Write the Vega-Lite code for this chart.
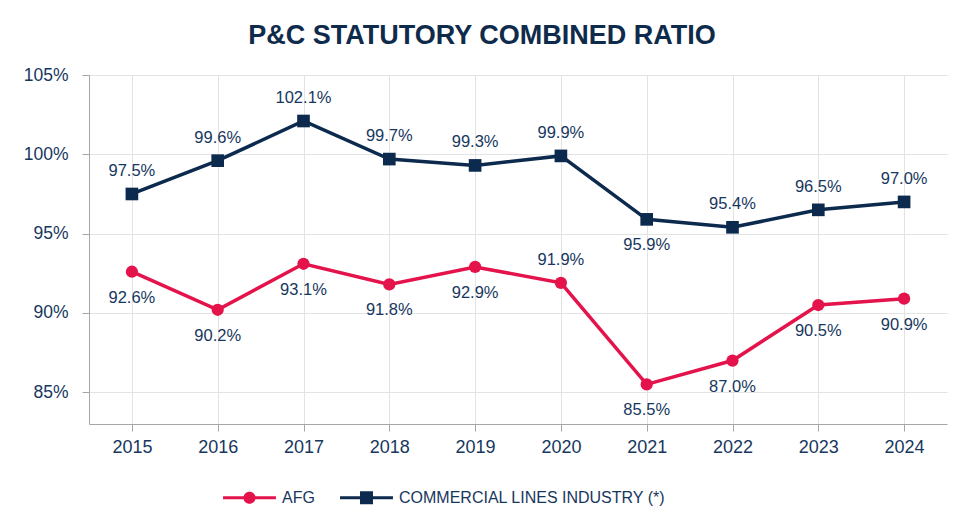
{
  "$schema": "https://vega.github.io/schema/vega-lite/v6.json",
  "width": 858,
  "height": 349,
  "padding": {"left": 23, "top": 22, "right": 8, "bottom": 5},
  "background": "white",
  "title": {"text": "P&C STATUTORY COMBINED RATIO", "fontSize": 27, "font": "Liberation Sans", "fontWeight": "bold", "color": "#0f2b4c", "anchor": "middle", "offset": 16, "dx": -36},
  "config": {
    "font": "Liberation Sans",
    "view": {"stroke": null},
    "axis": {"labelFont": "Liberation Sans", "labelColor": "#17375e", "labelFontSize": 17.5, "tickColor": "#a6a6a6", "domainColor": "#a6a6a6", "gridColor": "#e3e3e3", "tickSize": 7, "title": null}
  },
  "data": {"values": [
    {"year": "2015", "series": "AFG", "value": 0.926},
    {"year": "2016", "series": "AFG", "value": 0.902},
    {"year": "2017", "series": "AFG", "value": 0.931},
    {"year": "2018", "series": "AFG", "value": 0.918},
    {"year": "2019", "series": "AFG", "value": 0.929},
    {"year": "2020", "series": "AFG", "value": 0.919},
    {"year": "2021", "series": "AFG", "value": 0.855},
    {"year": "2022", "series": "AFG", "value": 0.870},
    {"year": "2023", "series": "AFG", "value": 0.905},
    {"year": "2024", "series": "AFG", "value": 0.909},
    {"year": "2015", "series": "COMMERCIAL LINES INDUSTRY (*)", "value": 0.975},
    {"year": "2016", "series": "COMMERCIAL LINES INDUSTRY (*)", "value": 0.996},
    {"year": "2017", "series": "COMMERCIAL LINES INDUSTRY (*)", "value": 1.021},
    {"year": "2018", "series": "COMMERCIAL LINES INDUSTRY (*)", "value": 0.997},
    {"year": "2019", "series": "COMMERCIAL LINES INDUSTRY (*)", "value": 0.993},
    {"year": "2020", "series": "COMMERCIAL LINES INDUSTRY (*)", "value": 0.999},
    {"year": "2021", "series": "COMMERCIAL LINES INDUSTRY (*)", "value": 0.959},
    {"year": "2022", "series": "COMMERCIAL LINES INDUSTRY (*)", "value": 0.954},
    {"year": "2023", "series": "COMMERCIAL LINES INDUSTRY (*)", "value": 0.965},
    {"year": "2024", "series": "COMMERCIAL LINES INDUSTRY (*)", "value": 0.970}
  ]},
  "encoding": {
    "x": {"field": "year", "type": "ordinal", "scale": {"type": "point", "padding": 0.5},
      "axis": {"labelAngle": 0, "grid": true, "labelPadding": 7, "labelFontSize": 18}},
    "y": {"field": "value", "type": "quantitative", "scale": {"domain": [0.83, 1.05], "nice": false, "zero": false},
      "axis": {"values": [0.85, 0.9, 0.95, 1.0, 1.05], "format": ".0%", "labelPadding": 14, "grid": true}},
    "color": {"field": "series", "type": "nominal",
      "scale": {"domain": ["AFG", "COMMERCIAL LINES INDUSTRY (*)"], "range": ["#e4134b", "#0c2a4d"]},
      "legend": {"orient": "none", "legendX": 134, "legendY": 396, "direction": "horizontal", "title": null, "labelFontSize": 16, "labelColor": "#17375e", "labelLimit": 0, "symbolSize": 2800, "labelOffset": 6, "columnPadding": 25,
        "encode": {"symbols": {"update": {
          "shape": {"signal": "datum.value === 'AFG' ? 'M-1,-0.06H1V0.06H-1Z M-0.23,0A0.23,0.23 0 1,1 0.23,0A0.23,0.23 0 1,1 -0.23,0Z' : 'M-1,-0.06H1V0.06H-1Z M-0.245,-0.245H0.245V0.245H-0.245Z'"},
          "fill": {"signal": "datum.value === 'AFG' ? '#e4134b' : '#0c2a4d'"},
          "stroke": {"value": null},
          "strokeWidth": {"value": 0},
          "opacity": {"value": 1}
        }}}}
    }
  },
  "layer": [
    {"mark": {"type": "line", "strokeWidth": 3.5}},
    {"transform": [{"filter": "datum.series === 'AFG'"}],
      "mark": {"type": "point", "filled": true, "opacity": 1, "size": 150, "shape": "circle"}},
    {"transform": [{"filter": "datum.series !== 'AFG'"}],
      "mark": {"type": "point", "filled": true, "opacity": 1, "size": 160, "shape": "square"}},
    {"transform": [{"filter": "(datum.series !== 'AFG' && datum.year !== '2021') || (datum.series === 'AFG' && datum.year === '2020')"}],
      "mark": {"type": "text", "dy": -23, "fontSize": 16.5, "font": "Liberation Sans"},
      "encoding": {"text": {"field": "value", "format": ".1%"}, "color": {"value": "#17375e"}}},
    {"transform": [{"filter": "!((datum.series !== 'AFG' && datum.year !== '2021') || (datum.series === 'AFG' && datum.year === '2020'))"}],
      "mark": {"type": "text", "dy": 26, "fontSize": 16.5, "font": "Liberation Sans"},
      "encoding": {"text": {"field": "value", "format": ".1%"}, "color": {"value": "#17375e"}}}
  ]
}
